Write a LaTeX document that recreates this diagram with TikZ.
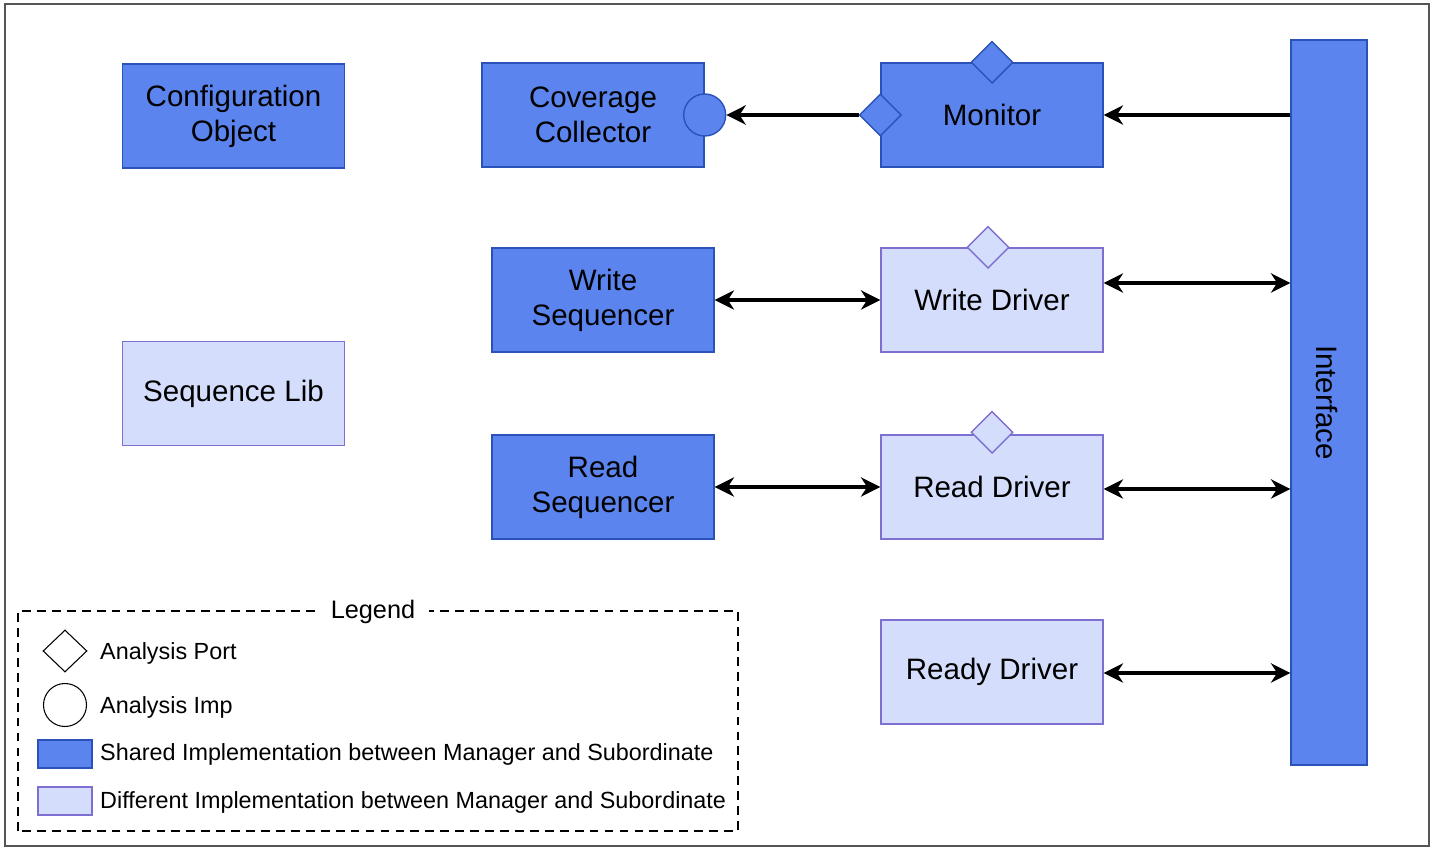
\documentclass[tikz,border=0pt]{standalone}
\usepackage{fontspec}
\setmainfont{Liberation Sans}
\usepackage{tikz}
\usetikzlibrary{arrows.meta,positioning,calc,shapes.geometric}
\definecolor{shareFill}{HTML}{5B84EE}
\definecolor{shareEdge}{HTML}{2B52B8}
\definecolor{diffFill}{HTML}{D4DEFC}
\definecolor{diffEdge}{HTML}{7D70D2}
\definecolor{frameGray}{HTML}{555555}

\begin{document}
\begin{tikzpicture}[>={Stealth[length=11pt,width=11pt,inset=3.5pt]},
  font=\fontsize{16.8}{20}\selectfont,
  shared/.style={draw=shareEdge,fill=shareFill,line width=0.8pt,minimum width=4.44cm,minimum height=2.08cm,align=center},
  diff/.style={draw=diffEdge,fill=diffFill,line width=0.8pt,minimum width=4.44cm,minimum height=2.08cm,align=center},
  aport/.style={diamond,aspect=1,inner sep=0pt,minimum size=0.84cm,line width=0.8pt},
  wire/.style={line width=2pt},
  legtxt/.style={anchor=west,font=\fontsize{13.3}{16}\selectfont}]
\useasboundingbox (0,0) rectangle (28.66,17);
\draw[frameGray,line width=0.9pt] (0.1,0.08) rectangle (28.58,16.92);
% left column
\node[shared] (cfg) at (4.67,14.68) {Configuration\\Object};
\node[diff] (seqlib) at (4.67,9.13) {Sequence Lib};
% sequencers and collector
\node[shared] (cov) at (11.86,14.70) {Coverage\\Collector};
\node[shared] (wseq) at (12.06,11.0) {Write\\Sequencer};
\node[shared] (rseq) at (12.06,7.26) {Read\\Sequencer};
% agents
\node[shared] (mon) at (19.84,14.70) {Monitor};
\node[diff] (wdrv) at (19.84,11.0) {Write Driver};
\node[diff] (rdrv) at (19.84,7.26) {Read Driver};
\node[diff] (rdydrv) at (19.84,3.56) {Ready Driver};
% interface bar
\node[draw=shareEdge,fill=shareFill,line width=0.8pt,minimum width=1.52cm,minimum height=14.5cm] (iface) at (26.58,8.95) {};
\node[rotate=-90] (ifacetxt) at (26.54,8.95) {Interface};
% ports
\node[aport,draw=shareEdge,fill=shareFill] (montop) at (mon.north) {};
\node[aport,draw=shareEdge,fill=shareFill] (monport) at (mon.west) {};
\node[circle,inner sep=0pt,minimum size=0.84cm,draw=shareEdge,fill=shareFill,line width=0.8pt] (covimp) at (cov.east) {};
\node[aport,draw=diffEdge,fill=diffFill] (wdrvtop) at ($(wdrv.north)+(-0.08,0)$) {};
\node[aport,draw=diffEdge,fill=diffFill] (rdrvtop) at ($(rdrv.north)+(0,0.04)$) {};
% connections
\coordinate (monR) at (mon.east);
\coordinate (wdrvR) at ($(wdrv.east)+(0,0.34)$);
\coordinate (rdrvR) at ($(rdrv.east)+(0,-0.04)$);
\coordinate (rdyR) at ($(rdydrv.east)+(0,-0.02)$);
\draw[->,wire] (monR -| iface.west) -- (monR);
\draw[->,wire] (monport.west) -- (covimp.east);
\draw[<->,wire] (wseq.east) -- (wdrv.west);
\draw[<->,wire] (rseq.east) -- (rdrv.west);
\draw[<->,wire] (wdrvR) -- (wdrvR -| iface.west);
\draw[<->,wire] (rdrvR) -- (rdrvR -| iface.west);
\draw[<->,wire] (rdyR) -- (rdyR -| iface.west);
% legend
\draw[dashed,dash pattern=on 5pt off 3.5pt,line width=0.6pt] (0.36,0.38) rectangle (14.76,4.78);
\node[fill=white,inner xsep=8pt,font=\fontsize{14.4}{17}\selectfont] (legtitle) at (7.46,4.76) {Legend};
\node[diamond,aspect=1.05,inner sep=0pt,minimum width=0.88cm,minimum height=0.84cm,draw,line width=0.6pt] (kport) at (1.3,3.98) {};
\node[circle,inner sep=0pt,minimum size=0.86cm,draw,line width=0.6pt] (kimp) at (1.3,2.9) {};
\node[draw=shareEdge,fill=shareFill,line width=0.6pt,minimum width=1.08cm,minimum height=0.56cm] (kshared) at (1.3,1.92) {};
\node[draw=diffEdge,fill=diffFill,line width=0.6pt,minimum width=1.08cm,minimum height=0.56cm] (kdiff) at (1.3,0.98) {};
\node[legtxt] (lport) at (1.88,3.94) {Analysis Port};
\node[legtxt] (limp) at (1.88,2.86) {Analysis Imp};
\node[legtxt] (lshared) at (1.88,1.92) {Shared Implementation between Manager and Subordinate};
\node[legtxt] (ldiff) at (1.88,0.96) {Different Implementation between Manager and Subordinate};
\end{tikzpicture}
\end{document}
